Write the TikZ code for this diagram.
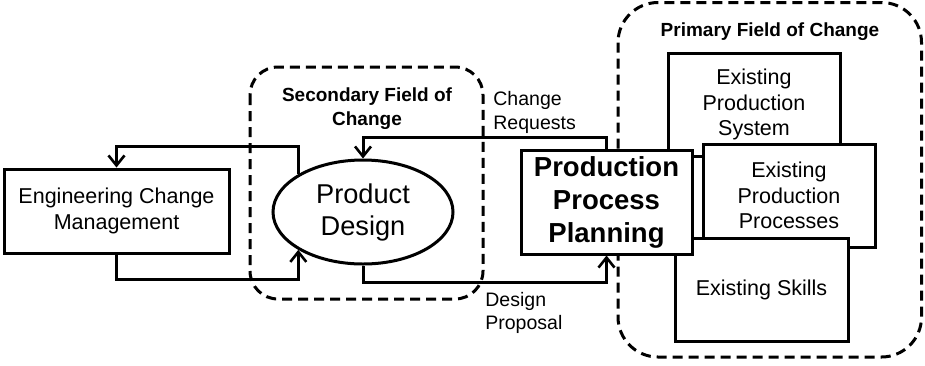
\documentclass[tikz,border=0pt]{standalone}
\usepackage{fontspec}
\setmainfont{Liberation Sans}
\usetikzlibrary{shapes.geometric,arrows.meta,calc}
\tikzset{
  plainbox/.style={draw,line width=1.5pt,fill=white,inner sep=0pt,align=center,
    font=\fontsize{10.75}{12.8}\selectfont},
  arr/.style={line width=1.5pt,-{Straight Barb[length=5pt,width=8pt,line width=1.3pt]}},
  field/.style={draw,line width=1.5pt,dash pattern=on 5pt off 3pt},
  lbl/.style={align=left,inner sep=0pt,font=\fontsize{9.75}{11.8}\selectfont},
  ttl/.style={align=center,inner sep=0pt,font=\bfseries\fontsize{9.5}{12}\selectfont}
}
\begin{document}
\begin{tikzpicture}[x=0.5pt,y=-0.5pt]
\useasboundingbox (0,0) rectangle (925,365);
% dashed fields
\draw[field,rounded corners=14pt] (250,67) rectangle (483,299);
\draw[field,rounded corners=20pt] (618,2.5) rectangle (921.5,357);
\node[ttl] (sec) at (367,109) {Secondary Field of\\Change};
\node[ttl] (pri) at (770,32) {Primary Field of Change};
% nodes
\node[plainbox,minimum width=112.5pt,minimum height=42pt] (ecm) at (116.5,211)
  {Engineering Change\\Management};
\node[ellipse,draw,line width=1.5pt,fill=white,inner sep=0pt,minimum width=90pt,
  minimum height=52pt,align=center,font=\fontsize{13.6}{16}\selectfont] (pd) at (363,212)
  {Product\\Design};
\node[plainbox,minimum width=86pt,minimum height=51.5pt] (eps) at (754,104.5)
  {Existing\\Production\\System};
\node[plainbox,minimum width=86pt,minimum height=51.5pt] (epp) at (789,195.5)
  {Existing\\Production\\Processes};
\node[plainbox,minimum width=86.5pt,minimum height=51.5pt] (sk) at (761.5,289.5)
  {Existing Skills};
\node[plainbox,minimum width=85.5pt,minimum height=52pt,
  font=\bfseries\fontsize{13.75}{16.5}\selectfont] (ppp) at (606.5,202)
  {Production\\Process\\Planning};
% helper coordinates
\coordinate (topy) at (0,146);
\coordinate (lowy) at (0,279);
\coordinate (cry) at (0,137);
\coordinate (dpy) at (0,282);
% connectors
\draw[arr] (pd.north west) -- (pd.north west |- topy) -| (ecm.north);
\draw[arr] (ecm.south) -- (ecm.south |- lowy) -| (pd.south west);
\draw[arr] (ppp.north) -- (ppp.north |- cry) -| (pd.north);
\draw[arr] (pd.south) -- (pd.south |- dpy) -| (ppp.south);
% labels
\node[lbl,anchor=west] (cr) at (493,112.5) {Change\\Requests};
\node[lbl,anchor=west] (dp) at (485,313) {Design\\Proposal};
\end{tikzpicture}
\end{document}
